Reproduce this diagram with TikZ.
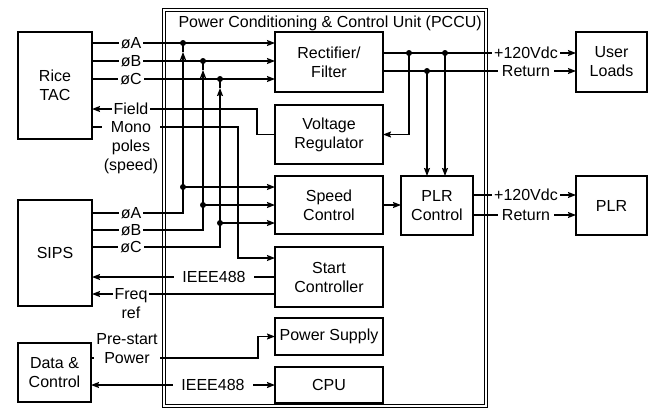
\documentclass[tikz,border=0pt]{standalone}
\usepackage{fontspec}
\setmainfont{Liberation Sans}
\usetikzlibrary{arrows.meta,calc}
\begin{document}
\begin{tikzpicture}[x=1pt,y=-1pt,
  font=\fontsize{16}{19}\selectfont,
  blk/.style={draw,line width=1.2pt,inner sep=0pt,outer sep=0pt,align=center},
  ln/.style={line width=1.2pt},
  arr/.style={line width=1.2pt,-{Stealth[length=8pt,width=6pt,inset=1.2pt]}},
  arrb/.style={line width=1.2pt,{Stealth[length=8pt,width=6pt,inset=1.2pt]}-{Stealth[length=8pt,width=6pt,inset=1.2pt]}},
  lbl/.style={fill=white,inner xsep=2pt,inner ysep=0.5pt,align=center},
  dot/.style={circle,fill,inner sep=0pt,minimum size=6pt}]
\useasboundingbox (0,0) rectangle (650,408);
% PCCU container
\node[draw,double,double distance=2pt,line width=0.9pt,minimum width=322pt,minimum height=396pt,inner sep=0pt] (pccu) at (325,208) {};
\node[anchor=base west] (title) at (175,27) {Power Conditioning \& Control Unit (PCCU)};
% boxes
\node[blk,minimum width=74pt,minimum height=107pt] (rice) at (55,85.5) {Rice\\TAC};
\node[blk,minimum width=74pt,minimum height=106pt] (sips) at (55,253) {SIPS};
\node[blk,minimum width=73pt,minimum height=59pt] (data) at (54.5,372.5) {Data \&\\Control};
\node[blk,minimum width=108pt,minimum height=60pt] (rect) at (329,62) {Rectifier/\\Filter};
\node[blk,minimum width=108pt,minimum height=59pt] (volt) at (329,134.5) {Voltage\\Regulator};
\node[blk,minimum width=108pt,minimum height=58pt] (speed) at (329,205) {Speed\\Control};
\node[blk,minimum width=108pt,minimum height=60pt] (start) at (329,277) {Start\\Controller};
\node[blk,minimum width=108pt,minimum height=37pt] (psup) at (329,336.5) {Power Supply};
\node[blk,minimum width=108pt,minimum height=36pt] (cpu) at (329,385) {CPU};
\node[blk,minimum width=72pt,minimum height=59pt] (plrc) at (437,205.5) {PLR\\Control};
\node[blk,minimum width=71pt,minimum height=60pt] (user) at (611.5,62) {User\\Loads};
\node[blk,minimum width=71pt,minimum height=59pt] (plr) at (611.5,205.5) {PLR};
% junction coordinates
\coordinate (tA) at (183,43); \coordinate (tB) at (203,61); \coordinate (tC) at (220,79);
\coordinate (uA) at (183,52); \coordinate (uB) at (203,70); \coordinate (uC) at (220,88);
\coordinate (sA) at (183,187); \coordinate (sB) at (203,205); \coordinate (sC) at (220,223);
\coordinate (bA) at (183,213); \coordinate (bB) at (203,230); \coordinate (bC) at (220,247);
\coordinate (pV) at (409,53); \coordinate (pP) at (445,53); \coordinate (rP) at (427,71);
% Rice TAC phases
\draw[arr] (rice.east |- tA) -- (rect.west |- tA);
\draw[arr] (rice.east |- tB) -- (rect.west |- tB);
\draw[arr] (rice.east |- tC) -- (rect.west |- tC);
% SIPS phases
\draw[arr] (sips.east |- bA) -- (bA) -- (uA); \draw[ln] (uA) -- (tA);
\draw[arr] (sips.east |- bB) -- (bB) -- (uB); \draw[ln] (uB) -- (tB);
\draw[arr] (sips.east |- bC) -- (bC) -- (uC); \draw[ln] (uC) -- (tC);
\draw[arr] (sA) -- (speed.west |- sA);
\draw[arr] (sB) -- (speed.west |- sB);
\draw[arr] (sC) -- (speed.west |- sC);
% field and monopoles
\draw[arr] (volt.west) -- (257,134.5) -- (257,109) -- (rice.east |- 0,109);
\draw[arr] (rice.east |- 0,127) -- (238,127) -- (238,258) -- (start.west |- 0,258);
% start controller to SIPS
\draw[arr] (start.west |- 0,277) -- (sips.east |- 0,277);
\draw[arr] (start.west |- 0,294) -- (sips.east |- 0,294);
% data & control
\draw[arr] (data.east |- 0,358) -- (258,358) -- (258,336.5) -- (psup.west);
\draw[arrb] (data.east |- 0,385) -- (cpu.west);
% rectifier outputs
\draw[arr] (rect.east |- pV) -- (user.west |- pV);
\draw[arr] (rect.east |- rP) -- (user.west |- rP);
\draw[arr] (pV) -- (pV |- volt.east) -- (volt.east);
\draw[arr] (rP) -- (rP |- plrc.north);
\draw[arr] (pP) -- (pP |- plrc.north);
\draw[arr] (speed.east) -- (plrc.west |- speed.east);
\draw[arr] (plrc.east |- 0,195) -- (plr.west |- 0,195);
\draw[arr] (plrc.east |- 0,215) -- (plr.west |- 0,215);
% dots
\foreach \p in {tA,tB,tC,sA,sB,sC,pV,pP,rP} \node[dot] at (\p) {};
% labels
\node[lbl] (lA1) at (131,43) {øA};
\node[lbl] (lB1) at (131,61) {øB};
\node[lbl] (lC1) at (131,79) {øC};
\node[lbl] (lF) at (131,109) {Field};
\node[lbl,anchor=north] (lM) at (131,120.5) {Mono\\poles\\(speed)};
\node[lbl] (lA2) at (131,213) {øA};
\node[lbl] (lB2) at (131,230) {øB};
\node[lbl] (lC2) at (131,247) {øC};
\node[lbl,inner xsep=8pt] (lI1) at (214,277) {IEEE488};
\node[lbl,anchor=north] (lFr) at (131,287.5) {Freq\\ref};
\node[lbl,anchor=south] (lP) at (127,364.5) {Pre-start\\Power};
\node[lbl,inner xsep=8pt] (lI2) at (213,385) {IEEE488};
\node[lbl] (lV1) at (526,53) {+120Vdc};
\node[lbl,inner xsep=4pt] (lR1) at (526,71) {Return};
\node[lbl] (lV2) at (526,195) {+120Vdc};
\node[lbl,inner xsep=4pt] (lR2) at (526,215) {Return};
\end{tikzpicture}
\end{document}
